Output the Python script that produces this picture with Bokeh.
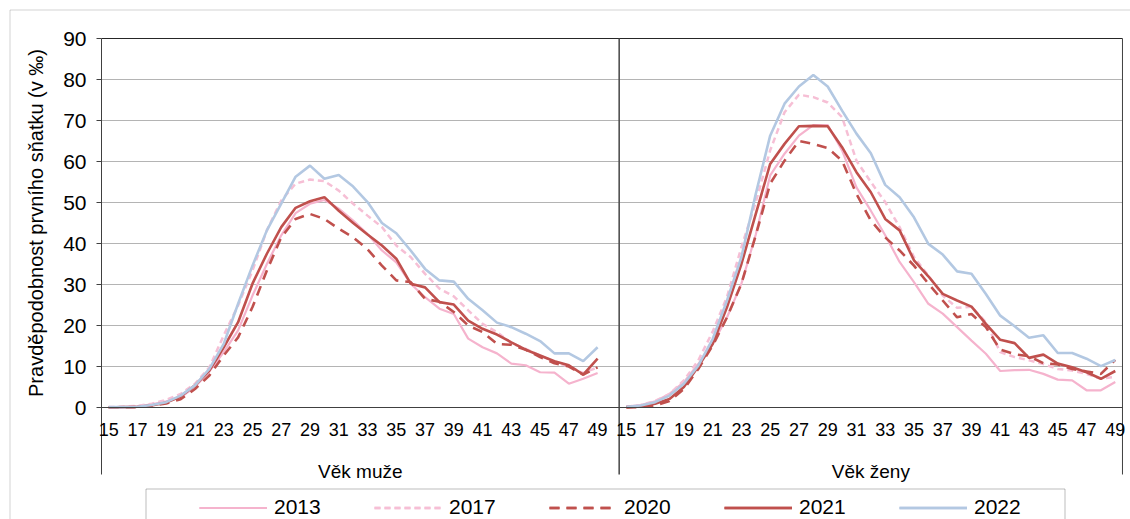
from bokeh.plotting import figure
from bokeh.models import Range1d, FixedTicker, Label, BoxAnnotation, Legend, LegendItem
from bokeh.embed import file_html
from bokeh.resources import INLINE

# ---------------- data ----------------
ages = list(range(15, 50))
tick_ages = list(range(15, 50, 2))
years = ["2013", "2017", "2020", "2021", "2022"]
group_labels = ["Věk muže", "Věk ženy"]
y_ticks = list(range(0, 91, 10))
y_title = "Pravděpodobnost prvního sňatku (v ‰)"

men_2013 = [0.0, 0.1, 0.3, 0.8, 1.5, 2.5, 5.0, 8.8, 13.5, 18.8, 27.3, 35.0, 42.0, 47.4, 49.7, 50.6, 48.5, 45.6,
            42.3, 38.3, 35.4, 30.2, 26.9, 24.1, 22.8, 16.8, 14.7, 13.2, 10.7, 10.3, 8.6, 8.5, 5.8, 7.0, 8.4]
men_2017 = [0.1, 0.2, 0.4, 0.9, 1.9, 3.3, 5.8, 9.8, 17.6, 24.9, 33.4, 43.2, 50.5, 54.6, 55.6, 55.2, 52.9, 49.7,
            46.8, 44.0, 39.5, 36.7, 32.6, 29.0, 27.1, 23.7, 20.4, 18.4, 15.7, 14.3, 12.7, 11.1, 10.0, 8.4, 9.8]
men_2020 = [0.0, 0.0, 0.1, 0.4, 1.0, 2.0, 4.5, 7.8, 12.7, 17.1, 24.5, 33.4, 41.5, 46.0, 47.2, 46.0, 43.6, 41.5,
            38.6, 34.6, 31.0, 30.6, 26.5, 25.8, 23.3, 20.0, 18.4, 15.5, 15.3, 14.1, 12.3, 10.8, 10.0, 8.0, 9.8]
men_2021 = [0.0, 0.1, 0.2, 0.5, 1.2, 2.7, 5.4, 9.0, 14.7, 20.8, 30.2, 37.5, 44.0, 48.7, 50.3, 51.3, 48.0, 45.0,
            42.2, 39.5, 36.3, 30.2, 29.3, 25.7, 25.1, 21.2, 19.2, 17.8, 15.9, 14.1, 12.7, 11.3, 10.3, 8.0, 11.9]
men_2022 = [0.1, 0.1, 0.2, 0.6, 1.3, 2.9, 5.4, 9.4, 15.5, 25.3, 34.6, 43.2, 49.7, 56.3, 59.0, 55.8, 56.7, 53.9,
            50.1, 45.0, 42.5, 38.3, 33.8, 31.0, 30.7, 26.5, 23.7, 20.7, 19.6, 18.0, 16.2, 13.2, 13.2, 11.3, 14.7]

women_2013 = [0.2, 0.6, 1.5, 3.3, 6.2, 10.6, 15.5, 22.0, 30.2, 42.2, 56.6, 61.9, 66.3, 68.9, 68.9, 62.7, 53.7, 48.0,
              42.0, 35.5, 30.6, 25.3, 22.9, 19.6, 16.3, 13.1, 8.9, 9.1, 9.2, 8.2, 6.8, 6.6, 4.2, 4.2, 6.2]
women_2017 = [0.2, 0.6, 1.6, 3.3, 6.6, 11.5, 18.5, 27.0, 39.1, 50.1, 62.7, 72.0, 76.3, 75.7, 74.4, 70.8, 60.2, 55.0,
              50.1, 44.0, 36.7, 32.2, 27.3, 24.3, 24.6, 20.8, 13.5, 12.3, 11.5, 10.6, 9.4, 9.0, 8.2, 7.0, 7.5]
women_2020 = [0.0, 0.1, 0.5, 1.6, 4.5, 9.4, 15.1, 22.0, 30.2, 42.0, 54.6, 60.2, 65.0, 64.3, 63.3, 60.2, 52.1, 45.6,
              41.5, 38.3, 34.6, 30.2, 26.1, 22.0, 22.8, 19.6, 14.1, 13.0, 12.5, 10.8, 10.5, 9.4, 8.8, 8.2, 11.6]
women_2021 = [0.1, 0.3, 0.9, 2.1, 5.0, 10.0, 15.5, 24.5, 35.0, 47.2, 59.4, 64.3, 68.6, 68.7, 68.6, 63.5, 57.4, 52.5,
              46.0, 43.2, 35.9, 32.0, 27.7, 26.1, 24.6, 20.4, 16.5, 15.7, 12.1, 12.9, 10.7, 9.8, 8.6, 7.0, 8.9]
women_2022 = [0.2, 0.5, 1.3, 2.9, 5.8, 10.2, 16.7, 26.1, 36.7, 52.1, 66.3, 74.1, 78.3, 81.1, 78.3, 72.4, 66.8, 62.0,
              54.3, 51.3, 46.4, 39.9, 37.3, 33.2, 32.6, 27.7, 22.4, 19.8, 17.0, 17.6, 13.3, 13.3, 11.9, 10.1, 11.6]

men = [men_2013, men_2017, men_2020, men_2021, men_2022]
women = [women_2013, women_2017, women_2020, women_2021, women_2022]

# ---------------- styles / geometry ----------------
colors = ["#F5B3CD", "#F6BFD5", "#C0504D", "#C0504D", "#B3C8E2"]
dashes = ["solid", "6 4", "10 7", "solid", "solid"]
widths = [2.2, 2.5, 2.6, 2.6, 2.6]
FONT = "Liberation Sans"

W, H = 1130, 519
PX_X = 14.38          # pixels per category
PX_Y = 4.1            # pixels per unit of y
AX_LEFT = 101         # canvas x of the left edge of the first category
AX_BOTTOM = 407       # canvas y of value 0

n = len(ages)
gap = 1  # one empty category between the two panels
men_x = [a - ages[0] for a in ages]
women_x = [n + gap + a - ages[0] for a in ages]
x_lo, x_hi = -0.5, 2 * n + gap - 0.5       # -0.5 .. 70.5
split = n + 0.5                            # 35.5
y_lo, y_hi = y_ticks[0], y_ticks[-1]


def cx(px):
    return x_lo + (px - AX_LEFT) / PX_X


def cy(py):
    return (AX_BOTTOM - py) / PX_Y


x_start, x_stop = cx(0), cx(W)
y_start, y_stop = cy(H), cy(0)
sep_bottom = cy(474)                       # separators below the axis

p = figure(width=W, height=H, output_backend="svg", toolbar_location=None,
           x_range=Range1d(x_start, x_stop), y_range=Range1d(y_start, y_stop),
           min_border_left=0, min_border_right=0, min_border_top=0, min_border_bottom=0)
p.background_fill_color = "white"
p.border_fill_color = "white"
p.outline_line_color = None
p.xgrid.visible = False
p.ygrid.visible = False

# horizontal grid lines (10..80) and top border (90)
p.segment(x0=[x_lo] * (len(y_ticks) - 2), x1=[x_hi] * (len(y_ticks) - 2), y0=y_ticks[1:-1], y1=y_ticks[1:-1],
          line_color="#B4B4B4", line_width=1)
p.segment(x0=[x_lo], x1=[x_hi], y0=[y_hi], y1=[y_hi], line_color="#262626", line_width=1)
# vertical borders / panel separators, extending below the axis
p.segment(x0=[x_lo, x_hi], x1=[x_lo, x_hi], y0=[sep_bottom] * 2, y1=[y_hi] * 2,
          line_color="#404040", line_width=1)
p.segment(x0=[split], x1=[split], y0=[sep_bottom], y1=[y_hi], line_color="#505050", line_width=1.6)

# x axis fixed at y = 0
tick_pos = [a - ages[0] for a in tick_ages] + [n + gap + a - ages[0] for a in tick_ages]
overrides = {}
for a in tick_ages:
    overrides[a - ages[0]] = str(a)
    overrides[n + gap + a - ages[0]] = str(a)
xa = p.xaxis[0]
xa.fixed_location = 0
xa.bounds = (x_lo, x_hi)
xa.ticker = FixedTicker(ticks=tick_pos)
xa.major_label_overrides = overrides
xa.major_tick_out = 0
xa.major_tick_in = 0
xa.minor_tick_out = 0
xa.minor_tick_in = 0
xa.axis_line_color = "#404040"
xa.major_label_standoff = 15
xa.major_label_text_font = FONT
xa.major_label_text_font_size = "18px"
xa.major_label_text_color = "#000000"

# y axis fixed at the left edge of the first category
ya = p.yaxis[0]
ya.fixed_location = x_lo
ya.bounds = (y_lo, y_hi)
ya.ticker = FixedTicker(ticks=y_ticks)
ya.major_tick_out = 5
ya.major_tick_in = 0
ya.minor_tick_out = 0
ya.minor_tick_in = 0
ya.axis_line_color = None
ya.major_tick_line_color = "#404040"
ya.major_label_standoff = 10
ya.major_label_text_font = FONT
ya.major_label_text_font_size = "21px"
ya.major_label_text_color = "#000000"
ya.axis_label = y_title
ya.axis_label_text_font = FONT
ya.axis_label_text_font_size = "20px"
ya.axis_label_text_font_style = "normal"
ya.axis_label_text_color = "#000000"
ya.axis_label_standoff = 13

# outer chart frame (only its top and left edges lie inside the window)
p.add_layout(BoxAnnotation(left=cx(9.5), right=x_stop + 5, top=cy(9.5), bottom=y_start - 5,
                           fill_alpha=0, line_color="#6a6a6a", line_width=1))

# series
items = []
for yr, c, d, w, mv, wv in zip(years, colors, dashes, widths, men, women):
    r1 = p.line(men_x, mv, line_color=c, line_dash=d, line_width=w)
    r2 = p.line(women_x, wv, line_color=c, line_dash=d, line_width=w)
    items.append(LegendItem(label=yr, renderers=[r1, r2]))

# group labels
for lbl, xc in zip(group_labels, [(x_lo + split) / 2, (split + x_hi) / 2]):
    p.add_layout(Label(x=xc, y=cy(470.5), text=lbl, text_align="center",
                       text_baseline="alphabetic", text_font=FONT, text_font_size="19px",
                       text_color="#000000"))

# legend box + legend
p.add_layout(BoxAnnotation(left=cx(145.5), right=cx(1064.5), top=cy(488.5), bottom=y_start - 5,
                           fill_color="white", fill_alpha=1, line_color="#262626", line_width=1))
legend = Legend(items=items, orientation="horizontal", location=(199, 0),
                glyph_width=68, glyph_height=21, label_height=21, label_width=47,
                label_standoff=7, spacing=53, padding=0, margin=0,
                label_text_font=FONT, label_text_font_size="21px", label_text_color="#000000",
                background_fill_alpha=0, border_line_alpha=0)
p.add_layout(legend)

open("out.html", "w").write(file_html(p, INLINE))
